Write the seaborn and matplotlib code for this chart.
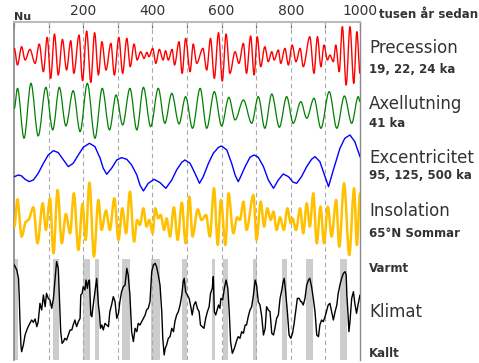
import numpy as np
import matplotlib
matplotlib.use('Agg')
import matplotlib.pyplot as plt
from matplotlib.path import Path
from matplotlib.patches import PathPatch
import seaborn as sns

# time axis: thousand years before present; values in arbitrary units
# precession / obliquity / insolation are given as their successive peaks and troughs
prec_t = [1, 10, 22, 32, 46, 61, 73, 85, 96, 106, 117, 128, 140, 152, 164, 173, 188, 198, 210, 222,
          233, 244, 254, 266, 280, 290, 303, 314, 326, 336, 347, 356, 366, 376, 384, 390, 401, 410, 420, 431,
          438, 446, 457, 464, 477, 486, 496, 509, 518, 528, 546, 557, 568, 579, 591, 602, 613, 624, 639, 650,
          663, 672, 684, 694, 703, 713, 725, 735, 745, 752, 764, 771, 783, 793, 804, 815, 827, 836, 855, 867,
          877, 887, 896, 906, 913, 923, 930, 940, 949, 960, 971, 982, 991, 1000]
prec_v = [25, -25, 30, -10, 22, -20, 38, -45, 58, -65, 68, -55, 52, -40, 48, -50, 65, -72, 77, -77,
          72, -55, 45, -40, 40, -55, 58, -50, 55, -30, 38, -10, 15, -5, 13, 0, 25, -20, 22, -10,
          18, -10, 22, -25, 45, -50, 55, -45, 38, -20, 25, -40, 55, -65, 72, -73, 68, -50, 15, -20,
          40, -50, 62, -55, 60, -30, 30, -15, 15, -10, 20, -20, 25, -25, 35, -15, 25, -30, 60, -50,
          60, -30, 35, -10, 5, -15, 35, -45, 90, -85, 90, -80, 75, -50]

obl_t = [1, 10, 29, 49, 70, 92, 112, 131, 150, 171, 191, 212, 234, 255, 276, 295, 314, 335, 355, 374,
         395, 417, 436, 456, 477, 496, 516, 538, 557, 579, 600, 621, 639, 663, 687, 706, 725, 745, 767, 788,
         807, 829, 846, 867, 887, 911, 933, 955, 976, 995, 1000]
obl_v = [0, 60, -90, 75, -83, 63, -65, 63, -53, 53, -70, 75, -90, 60, -65, 40, -50, 60, -65, 63,
         -55, 60, -45, 45, -47, 35, -60, 60, -60, 50, -53, 33, -35, 25, -45, 35, -60, 43, -57, 35,
         -45, 20, -30, 30, -60, 50, -60, 37, -45, 35, 20]

ecc_t = [1, 13, 22, 32, 44, 56, 70, 85, 99, 114, 128, 143, 157, 171, 186, 200, 218, 234, 249, 258,
         268, 282, 297, 311, 326, 340, 355, 364, 374, 388, 405, 422, 439, 456, 470, 485, 494, 509, 523, 536,
         547, 562, 576, 591, 600, 615, 629, 639, 648, 653, 668, 682, 694, 706, 721, 735, 750, 764, 778, 793,
         807, 817, 831, 846, 860, 870, 884, 899, 909, 923, 942, 956, 971, 985, 1000]
ecc_v = [-40, -35, -38, -48, -55, -50, -30, 0, 25, 38, 32, 10, -10, 0, 25, 48, 60, 50, 15, -15,
         -33, -15, 10, 17, 12, -5, -35, -65, -83, -60, -48, -58, -75, -50, -20, 3, 10, 0, -30, -60,
         -40, 0, 30, 48, 52, 40, 0, -35, -55, -45, -10, 18, 25, 18, -10, -50, -75, -50, -32, -40,
         -57, -60, -40, -10, 12, 20, 5, -40, -70, -20, 45, 75, 85, 65, 20]

ins_t = [1, 10, 22, 35, 41, 56, 68, 83, 92, 104, 114, 126, 138, 150, 162, 173, 186, 198, 207, 218,
         231, 244, 253, 266, 277, 290, 302, 313, 324, 335, 347, 356, 364, 374, 383, 391, 401, 408, 417, 424,
         434, 441, 451, 462, 473, 485, 496, 507, 516, 531, 542, 555, 566, 578, 589, 598, 611, 620, 634, 645,
         653, 663, 672, 692, 701, 713, 723, 732, 742, 750, 759, 769, 780, 790, 800, 805, 815, 827, 836, 846,
         855, 865, 875, 886, 896, 907, 918, 931, 940, 954, 969, 983, 991, 1000]
ins_v = [-25, 57, -55, -10, -5, 33, -75, 45, -35, 60, -105, 85, -75, 13, -45, 75, -95, 43, -65, 107,
         -115, 55, -35, 23, -35, 60, -65, 30, -45, 80, -70, -5, -20, 30, -25, -5, -45, 30, 0, 10,
         -35, 0, -55, 33, -65, 47, -75, 65, -55, 27, -5, 10, -55, 90, -80, 55, -80, 75, -45, 3,
         -5, 50, -35, 70, -65, 50, -25, 30, -5, 20, -35, 3, -35, 30, -15, 0, -35, 30, -45, 45,
         -25, 75, -75, 35, -75, 35, -55, 55, -85, 105, -110, 90, -80, 75]

clim_t = [1, 8, 13, 15, 17, 20, 22, 27, 32, 37, 41, 46, 51, 56, 61, 66, 70, 75, 80, 85,
          90, 94, 99, 104, 109, 114, 118, 123, 128, 131, 135, 139, 143, 147, 152, 157, 162, 167, 171, 176,
          181, 186, 191, 193, 197, 200, 205, 208, 212, 215, 218, 222, 225, 229, 234, 239, 244, 247, 250, 254,
          258, 263, 268, 273, 277, 282, 287, 292, 297, 302, 306, 311, 316, 321, 326, 330, 335, 340, 345, 350,
          355, 359, 364, 369, 374, 379, 383, 388, 393, 398, 403, 408, 412, 417, 422, 427, 430, 434, 437, 441,
          446, 451, 456, 461, 465, 470, 475, 480, 485, 489, 492, 496, 501, 506, 511, 515, 520, 525, 530, 535,
          539, 544, 549, 554, 559, 564, 568, 573, 576, 579, 583, 587, 591, 595, 598, 603, 608, 613, 618, 622,
          626, 631, 637, 644, 648, 653, 658, 663, 668, 672, 677, 682, 687, 692, 697, 701, 706, 711, 716, 721,
          726, 730, 735, 740, 745, 750, 754, 759, 764, 769, 774, 778, 781, 785, 790, 795, 800, 805, 809, 814,
          819, 824, 829, 831, 836, 841, 846, 851, 855, 860, 865, 870, 875, 880, 884, 889, 894, 899, 903, 908,
          913, 918, 923, 928, 933, 937, 942, 947, 952, 957, 960, 962, 965, 968, 971, 976, 981, 985, 990, 995,
          1000]
clim_v = [135, 120, 95, 45, -25, -105, -125, -105, -75, -60, -50, -40, -30, -37, -27, -50, -35, 20, 0, 45,
          10, 50, 35, 30, 5, 35, 85, 145, 125, 45, -65, -100, -95, -85, -90, -75, -60, -60, -45, -30,
          -50, -35, -25, 45, 50, 70, 60, 90, 65, 85, 90, -15, -20, 15, 55, 95, 15, -10, -55, -45,
          -60, -40, -45, -50, -5, 15, 40, 25, -25, -10, 25, 55, 70, 75, 125, 105, 45, -65, -95, -55,
          -65, -40, -45, -35, -25, -15, 0, 5, 25, 115, 135, 140, 130, 105, 75, -5, -85, -135, -115, -105,
          -85, -80, -55, -65, -35, -15, -5, 15, 45, 85, 95, 55, 45, 35, 10, -15, 15, 25, 5, -5,
          -45, -50, -55, -25, -5, 10, 50, 65, 100, -5, -15, 0, 15, 5, 35, 30, 65, 90, 65, -5,
          -95, -130, -115, -90, -80, -85, -65, -70, -45, -45, -20, 0, 10, 45, 90, 75, 25, 15, -20, -75,
          -55, 10, 0, -5, -70, -75, -55, -25, -15, 35, 60, 85, 95, 55, -5, -75, -85, -70, -45, -5,
          35, 35, 25, 25, 15, 35, 75, 90, 95, 70, 35, -5, -75, -80, -45, -30, -35, -20, -5, 15,
          20, -5, -30, -5, 15, 50, 75, 95, 110, 115, 105, 45, -5, -65, -35, 35, 55, 20, -10, 20,
          45]

# interglacial periods (grey bands), thousand years ago
interglacials = [(0, 12), (114, 131), (198, 220), (235, 245), (311, 335), (395, 422), (486, 501),
                 (572, 582), (605, 618), (692, 703), (774, 790), (844, 865), (942, 962)]

tick_pos = list(range(0, 1001, 100))
tick_labels = ['', '', '200', '', '400', '', '600', '', '800', '', '1000']

W, H = 479, 363
TXT = '#333333'
SCALE = 1 / 3.0


def peak_curve(t, v):
    # smooth curve through successive extrema (flat tangent at each peak/trough)
    verts = [(t[0], v[0])]
    codes = [Path.MOVETO]
    for i in range(len(t) - 1):
        dt = t[i + 1] - t[i]
        verts += [(t[i] + dt / 3, v[i]), (t[i + 1] - dt / 3, v[i + 1]), (t[i + 1], v[i + 1])]
        codes += [Path.CURVE4] * 3
    return Path(verts, codes)


sns.set_theme(style='white')
plt.rcParams['font.family'] = ['DejaVu Sans']

fig = plt.figure(figsize=(W / 100, H / 100), dpi=100)
ax = fig.add_axes([14 / W, 3 / H, 346 / W, 338 / H])
ax.set_xlim(0, 1000)
ax.set_ylim(360, 22)

for a, b in interglacials:
    ax.fill_between([a, b], 259, 360, color='#cccccc', lw=0, zorder=0)

for x in range(100, 1000, 100):
    ax.axvline(x, color='#aaaaaa', lw=0.8, ls=(0, (4, 3)), zorder=1)

# oscillating series: (time, values, colour, width, row centre)
waves = [
    (prec_t, prec_v, '#ff0000', 1.0, 56.7),
    (obl_t, obl_v, '#008000', 0.9, 108.3),
    (ins_t, ins_v, '#ffc000', 1.8, 218.3),
]
for t, v, c, lw, y0 in waves:
    y = y0 - np.array(v) * SCALE
    ax.add_patch(PathPatch(peak_curve(t, y), fill=False, edgecolor=c, lw=lw,
                           joinstyle='round', capstyle='round', zorder=3))

sns.lineplot(x=ecc_t, y=163.3 - np.array(ecc_v) * SCALE, color='#0000ff', lw=1.0, ax=ax, zorder=3)
sns.lineplot(x=clim_t, y=310.0 - np.array(clim_v) * SCALE, color='#000000', lw=1.0, ax=ax, zorder=3)

ax.set_xlabel('')
ax.set_ylabel('')
ax.set_yticks([])
ax.set_xticks(tick_pos)
ax.set_xticklabels(tick_labels)
ax.xaxis.set_ticks_position('top')
ax.tick_params(axis='x', direction='in', length=4, width=0.8, color='#666666',
               labelsize=10, labelcolor=TXT, pad=3, top=True, bottom=False,
               labeltop=True, labelbottom=False)
ax.spines['bottom'].set_visible(False)
ax.spines['top'].set_color('#bbbbbb')
ax.spines['top'].set_linewidth(1.5)
ax.spines['left'].set_color('#888888')
ax.spines['left'].set_linewidth(1.2)
ax.spines['right'].set_color('#888888')
ax.spines['right'].set_linewidth(1.0)

fig.text(14 / W, 1 - 20 / H, 'Nu', fontsize=8, fontweight='bold', color=TXT, va='baseline')
fig.text(379 / W, 1 - 18.3 / H, 'tusen år sedan', fontsize=8.5, fontweight='bold', color=TXT, va='baseline')

labels = [
    ('Precession', 53.3, 12, 'normal'),
    ('19, 22, 24 ka', 72.7, 8.5, 'bold'),
    ('Axellutning', 109.3, 12, 'normal'),
    ('41 ka', 127.3, 8.5, 'bold'),
    ('Excentricitet', 163.3, 12, 'normal'),
    ('95, 125, 500 ka', 179, 8.5, 'bold'),
    ('Insolation', 216, 12, 'normal'),
    ('65°N Sommar', 237.3, 8.5, 'bold'),
    ('Varmt', 272.3, 8.5, 'bold'),
    ('Klimat', 316.7, 12, 'normal'),
    ('Kallt', 356.7, 8.5, 'bold'),
]
for s, yb, fs, fw in labels:
    fig.text(369 / W, 1 - yb / H, s, fontsize=fs, fontweight=fw, color=TXT, va='baseline')

fig.savefig('out.png', dpi=100)
